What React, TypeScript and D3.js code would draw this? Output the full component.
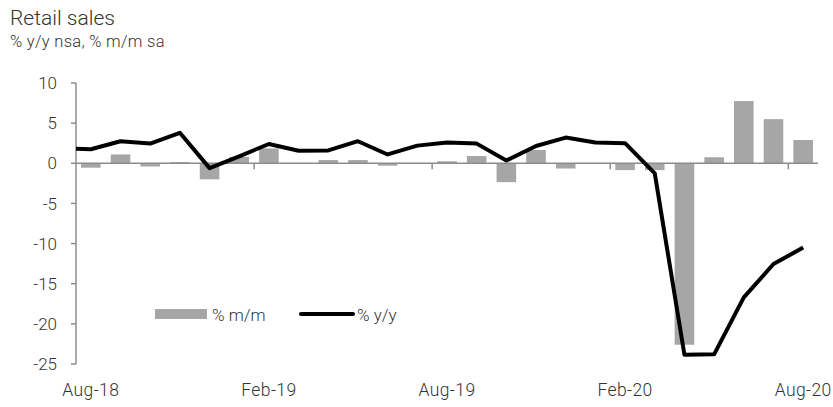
import React from "react";
import * as d3 from "d3";

const months = [
  "Aug-18", "Sep-18", "Oct-18", "Nov-18", "Dec-18", "Jan-19", "Feb-19", "Mar-19", "Apr-19",
  "May-19", "Jun-19", "Jul-19", "Aug-19", "Sep-19", "Oct-19", "Nov-19", "Dec-19", "Jan-20",
  "Feb-20", "Mar-20", "Apr-20", "May-20", "Jun-20", "Jul-20", "Aug-20",
];
const momValues = [
  -0.55, 1.1, -0.4, 0.15, -2.0, 0.8, 1.85, 0.0, 0.4, 0.4, -0.3, 0.0, 0.25, 0.9, -2.35, 1.65,
  -0.65, 0.0, -0.85, -0.85, -22.6, 0.75, 7.75, 5.5, 2.9,
];
const yoyValues = [
  1.75, 2.75, 2.45, 3.8, -0.6, 0.87, 2.4, 1.57, 1.6, 2.75, 1.1, 2.2, 2.6, 2.45, 0.35, 2.15,
  3.2, 2.6, 2.5, -1.25, -23.85, -23.8, -16.7, -12.55, -10.5,
];
// previous month (Jul-18) y/y value, drawn clipped at the axis
const yoyPrior = 1.9;
const yTicks = [10, 5, 0, -5, -10, -15, -20, -25];
const xLabelMonths = ["Aug-18", "Feb-19", "Aug-19", "Feb-20", "Aug-20"];
const xTickBoundaries = [6, 12, 18, 24];

const W = 833;
const H = 407;
const left = 76;
const right = 818;
const top = 83;
const bottom = 364;
const FONT = "Roboto, 'Liberation Sans', sans-serif";
const TEXT = "#333333";
const AXIS = "#8c8c8c";
const BAR = "#a6a6a6";

export default function App() {
  const x = d3.scaleBand<string>().domain(months).range([left, right]).paddingInner(0.34).paddingOuter(0.17);
  const y = d3.scaleLinear().domain([-25, 10]).range([bottom, top]);
  const step = x.step();
  const cx = (m: string) => (x(m) as number) + x.bandwidth() / 2;

  const pts: [number, number][] = [[cx(months[0]) - step, y(yoyPrior)]];
  months.forEach((m, i) => pts.push([cx(m), y(yoyValues[i])]));
  const line = d3.line<[number, number]>().x((d) => d[0]).y((d) => d[1]);

  const y0 = y(0);

  return (
    <svg width={W} height={H} style={{ position: "absolute", left: 0, top: 0, background: "#fff" }}>
      <defs>
        <clipPath id="plot">
          <rect x={left} y={0} width={right - left + 20} height={H} />
        </clipPath>
      </defs>
      <text x={10} y={25} fontFamily={FONT} fontWeight={300} fontSize={21} fill={TEXT}>
        Retail sales
      </text>
      <text x={10} y={47} fontFamily={FONT} fontWeight={300} fontSize={16.5} letterSpacing={0.3} fill={TEXT}>
        % y/y nsa, % m/m sa
      </text>

      {/* bars */}
      {months.map((m, i) => {
        const v = momValues[i];
        return (
          <rect
            key={m}
            x={x(m)}
            y={Math.min(y(v), y0)}
            width={x.bandwidth()}
            height={Math.abs(y(v) - y0)}
            fill={BAR}
          />
        );
      })}

      {/* zero line and x ticks */}
      <line x1={left} x2={right} y1={y0} y2={y0} stroke={AXIS} strokeWidth={1.5} />
      {xTickBoundaries.map((k) => {
        const xx = left + k * step;
        return <line key={k} x1={xx} x2={xx} y1={y0} y2={y0 + 6} stroke={AXIS} strokeWidth={1.5} />;
      })}

      {/* y axis */}
      <line x1={left} x2={left} y1={top} y2={bottom} stroke={AXIS} strokeWidth={1.5} />
      {yTicks.map((t) => (
        <g key={t}>
          <line x1={left - 5} x2={left} y1={y(t)} y2={y(t)} stroke={AXIS} strokeWidth={1.5} />
          <text
            x={57}
            y={y(t)}
            dy="0.36em"
            textAnchor="end"
            fontFamily={FONT}
            fontWeight={300}
            fontSize={17}
            fill={TEXT}
          >
            {t}
          </text>
        </g>
      ))}

      {/* line */}
      <path
        d={line(pts) || ""}
        fill="none"
        stroke="#000"
        strokeWidth={4}
        strokeLinejoin="round"
        clipPath="url(#plot)"
      />

      {/* x labels */}
      {xLabelMonths.map((m) => (
        <text
          key={m}
          x={cx(m)}
          y={396}
          textAnchor="middle"
          fontFamily={FONT}
          fontWeight={300}
          fontSize={17.5}
          letterSpacing={0.4}
          fill={TEXT}
        >
          {m}
        </text>
      ))}

      {/* legend */}
      <rect x={155} y={309} width={52} height={10} fill={BAR} />
      <text x={212} y={320.5} fontFamily={FONT} fontWeight={300} fontSize={17} fill={TEXT}>
        % m/m
      </text>
      <line x1={301} x2={353} y1={314} y2={314} stroke="#000" strokeWidth={4} strokeLinecap="round" />
      <text x={357} y={320.5} fontFamily={FONT} fontWeight={300} fontSize={17} fill={TEXT}>
        % y/y
      </text>
    </svg>
  );
}
